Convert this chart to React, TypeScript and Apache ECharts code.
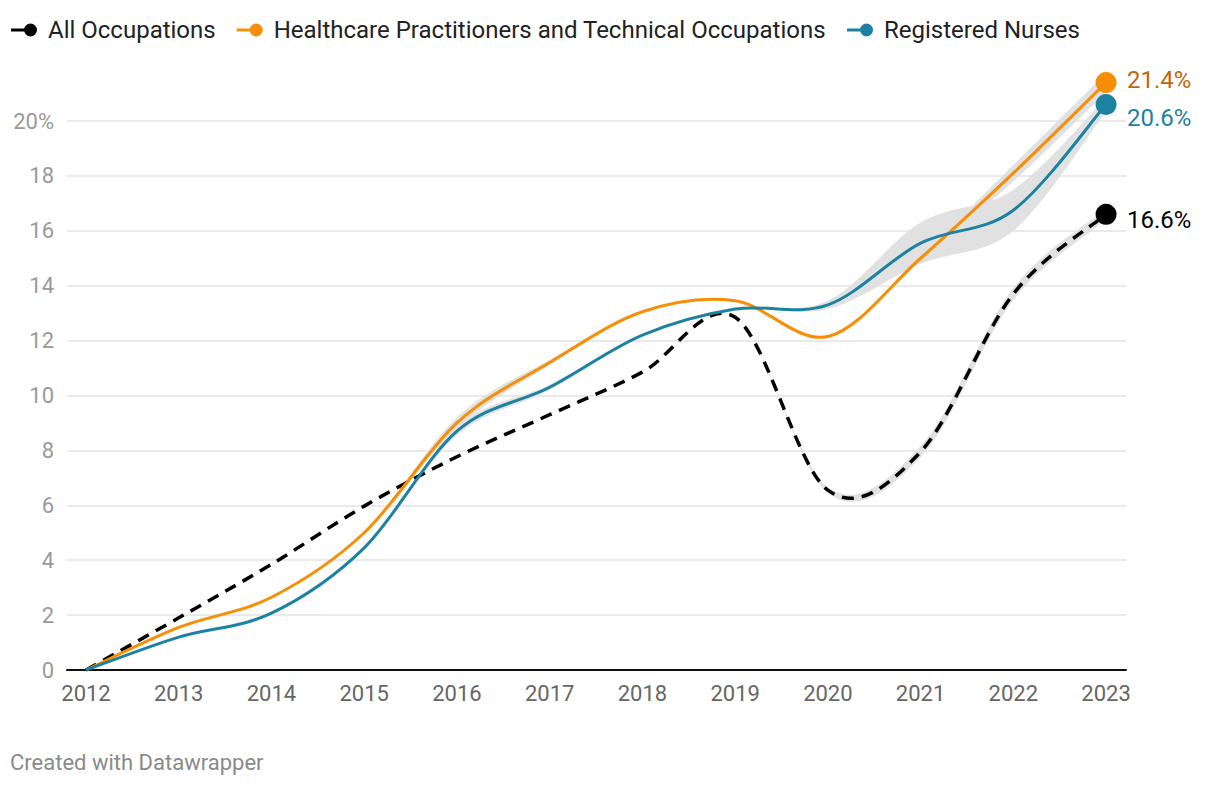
import React, { useEffect, useRef } from "react";
import * as echarts from "echarts";

const years = [2012, 2013, 2014, 2015, 2016, 2017, 2018, 2019, 2020, 2021, 2022, 2023];
const allOccupations = [0, 1.9, 3.85, 5.97, 7.77, 9.3, 10.85, 12.85, 6.55, 7.95, 13.7, 16.6];
const healthcare = [0, 1.55, 2.65, 5.0, 9.0, 11.2, 13.05, 13.45, 12.15, 15.0, 18.1, 21.4];
const nurses = [0, 1.2, 2.07, 4.45, 8.7, 10.3, 12.2, 13.15, 13.3, 15.55, 16.75, 20.6];
// half-widths of the grey uncertainty bands
const allBand = [0, 0, 0, 0, 0, 0, 0, 0, 0.1, 0.2, 0.22, 0.2];
const healthBand = [0, 0, 0, 0, 0.2, 0.1, 0, 0, 0, 0.1, 0.3, 0.35];
const nursesBand = [0, 0, 0, 0, 0.15, 0.1, 0, 0, 0.15, 0.75, 0.75, 0.25];
const yTicks = [0, 2, 4, 6, 8, 10, 12, 14, 16, 18, 20];

const names = ["All Occupations", "Healthcare Practitioners and Technical Occupations", "Registered Nurses"];
const colors = ["#000000", "#f78e05", "#1d81a2"];
const labelColors = ["#000000", "#c2660b", "#1d81a2"];
const labelDy = [6, -3, 13];
const FONT = "Roboto, 'Noto Sans', sans-serif";

const legendIcon =
  "path://M0,5.5 L15,5.5 L15,8.5 L0,8.5 Z M13,7 A6.5,6.5 0 1 1 26,7 A6.5,6.5 0 1 1 13,7 Z";

type Pt = number[];

// cardinal (Catmull-Rom) curve through screen points
function curvePath(pts: Pt[], start: "M" | "L"): string {
  let d = `${start}${pts[0][0]},${pts[0][1]}`;
  for (let i = 0; i < pts.length - 1; i++) {
    const p0 = pts[i - 1] || pts[i];
    const p1 = pts[i];
    const p2 = pts[i + 1];
    const p3 = pts[i + 2] || pts[i + 1];
    const c1x = p1[0] + (p2[0] - p0[0]) / 6;
    const c1y = p1[1] + (p2[1] - p0[1]) / 6;
    const c2x = p2[0] - (p3[0] - p1[0]) / 6;
    const c2y = p2[1] - (p3[1] - p1[1]) / 6;
    d += ` C${c1x},${c1y} ${c2x},${c2y} ${p2[0]},${p2[1]}`;
  }
  return d;
}

function lineSeries(idx: number, values: number[]) {
  const last = values.length - 1;
  return {
    name: names[idx],
    type: "custom",
    coordinateSystem: "cartesian2d",
    encode: { x: 0, y: 1 },
    clip: false,
    z: 5,
    color: colors[idx],
    itemStyle: { color: colors[idx] },
    silent: true,
    data: values.map((v, i) => [years[i], v]),
    renderItem: (params: any, api: any) => {
      const i = params.dataIndex;
      if (i === 0) {
        const pts = values.map((v, k) => api.coord([years[k], v]));
        return {
          type: "path",
          shape: { pathData: curvePath(pts, "M") },
          style: {
            fill: "none",
            stroke: colors[idx],
            lineWidth: idx === 0 ? 3.5 : 3,
            lineDash: idx === 0 ? [12, 8] : null,
            lineCap: "butt",
          },
        };
      }
      if (i === last) {
        const p = api.coord([years[i], values[i]]);
        return {
          type: "group",
          children: [
            { type: "circle", shape: { cx: p[0], cy: p[1], r: 10.5 }, style: { fill: colors[idx] } },
            {
              type: "text",
              x: p[0] + 21,
              y: p[1] + labelDy[idx],
              style: {
                text: values[i].toFixed(1) + "%",
                fill: labelColors[idx],
                fontSize: 24,
                fontFamily: FONT,
                align: "left",
                verticalAlign: "middle",
              },
            },
          ],
        };
      }
      return null;
    },
  };
}

function bandSeries(key: string, values: number[], half: number[]) {
  return {
    name: key,
    type: "custom",
    coordinateSystem: "cartesian2d",
    encode: { x: 0, y: 1 },
    clip: false,
    z: 2,
    silent: true,
    data: values.map((v, i) => [years[i], v]),
    renderItem: (params: any, api: any) => {
      if (params.dataIndex !== 0) return null;
      const upper = values.map((v, k) => api.coord([years[k], v + half[k]]));
      const lower = values.map((v, k) => api.coord([years[k], v - half[k]])).reverse();
      const d = curvePath(upper, "M") + " " + curvePath(lower, "L") + " Z";
      return {
        type: "path",
        shape: { pathData: d },
        style: { fill: "#e1e1e1", stroke: "none" },
      };
    },
  };
}

export default function App() {
  const ref = useRef<HTMLDivElement>(null);
  useEffect(() => {
    if (!ref.current) return;
    const chart = echarts.init(ref.current, undefined, { renderer: "svg" });
    chart.setOption({
      animation: false,
      backgroundColor: "#ffffff",
      textStyle: { fontFamily: FONT },
      legend: {
        data: names,
        left: 6,
        top: 13,
        itemWidth: 26,
        itemHeight: 14,
        itemGap: 21,
        icon: legendIcon,
        selectedMode: false,
        textStyle: { fontSize: 24, color: "#222222", fontFamily: FONT, padding: [0, 0, 0, 6] },
      },
      grid: { left: 67, right: 94, top: 121, bottom: 116, containLabel: false },
      xAxis: {
        type: "value",
        min: 2011.795,
        max: 2023.215,
        axisLine: { show: true, onZero: true, lineStyle: { color: "#111111", width: 2 } },
        axisTick: { show: false },
        splitLine: { show: false },
        axisLabel: {
          customValues: years,
          formatter: (v: number) => String(Math.round(v)),
          color: "#666666",
          fontSize: 22,
          fontFamily: FONT,
          margin: 12,
        },
      },
      yAxis: {
        type: "value",
        min: 0,
        max: 20,
        interval: 2,
        axisLine: { show: false },
        axisTick: { show: false },
        splitLine: { show: true, lineStyle: { color: "#e3e3e3", width: 1.5 } },
        axisLabel: {
          customValues: yTicks,
          formatter: (v: number) => (v === 20 ? "20%" : String(v)),
          color: "#9a9a9a",
          fontSize: 22,
          fontFamily: FONT,
          margin: 13,
        },
      },
      graphic: [
        {
          type: "text",
          left: 10,
          top: 751,
          style: {
            text: "Created with Datawrapper",
            fill: "#8a8a8a",
            fontSize: 22,
            fontFamily: FONT,
          },
        },
      ],
      series: [
        bandSeries("bandAll", allOccupations, allBand),
        bandSeries("bandHealth", healthcare, healthBand),
        bandSeries("bandNurses", nurses, nursesBand),
        lineSeries(0, allOccupations),
        lineSeries(1, healthcare),
        lineSeries(2, nurses),
      ],
    });
    return () => chart.dispose();
  }, []);
  return (
    <div
      ref={ref}
      style={{ position: "fixed", left: 0, top: 0, width: 1220, height: 786, background: "#fff" }}
    />
  );
}
